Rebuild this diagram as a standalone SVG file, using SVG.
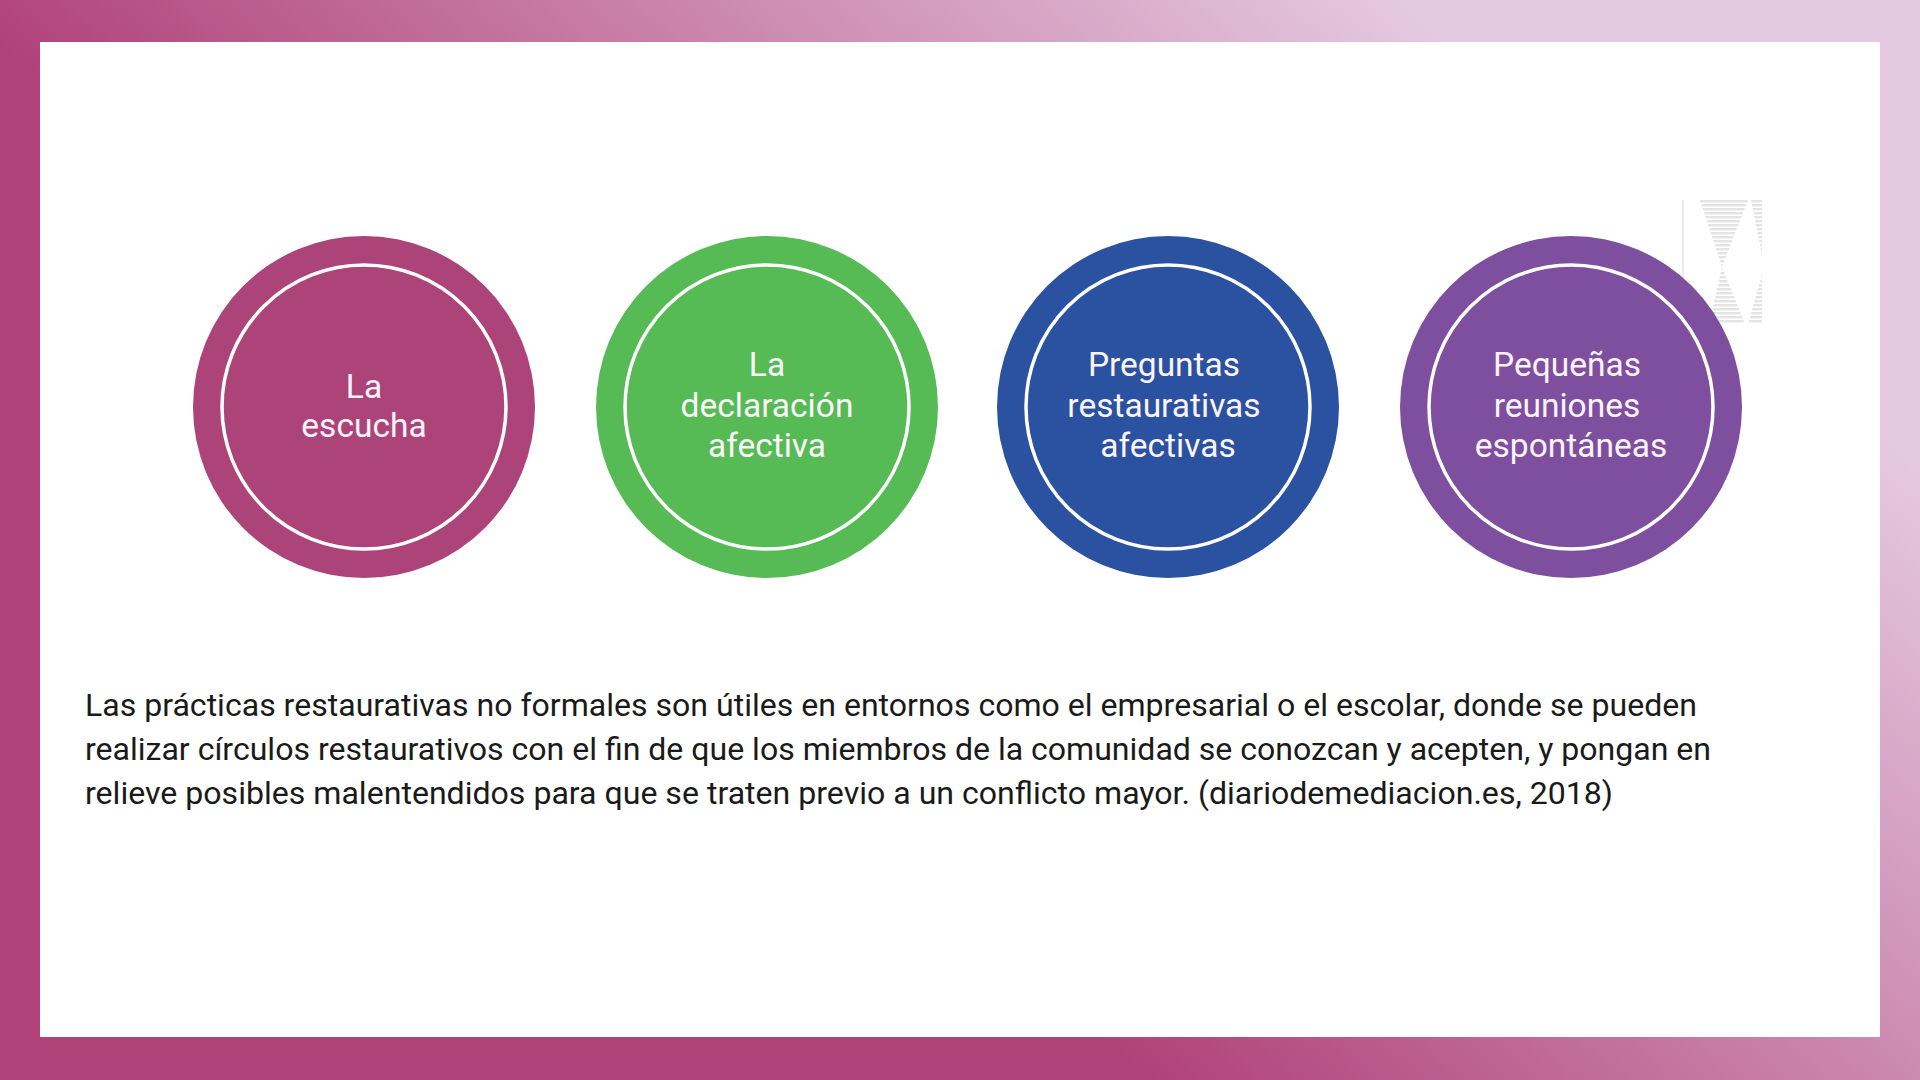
<svg xmlns="http://www.w3.org/2000/svg" width="1920" height="1080" viewBox="0 0 1920 1080">
<style>
.ring{fill:none;stroke:#ffffff;stroke-width:3.5}
.lbl{font-family:Roboto,"Liberation Sans",sans-serif;font-size:33.5px;fill:#fbf4fa;text-anchor:middle}
.body{font-family:Roboto,"Liberation Sans",sans-serif;font-size:30.5px;fill:#1a1a1a}
</style>
<defs>
<linearGradient id="bg" gradientUnits="userSpaceOnUse" x1="-50" y1="0" x2="599" y2="-721">
<stop offset="0" stop-color="#b04279"/>
<stop offset="1" stop-color="#e5c9e0"/>
</linearGradient>
<pattern id="stripes" patternUnits="userSpaceOnUse" width="10" height="4">
<rect x="0" y="0" width="10" height="2.4" fill="#e4e4e4"/>
</pattern>
</defs>
<rect x="0" y="0" width="1920" height="1080" fill="url(#bg)"/>
<rect x="40" y="42" width="1840" height="995" fill="#ffffff"/>
<g id="logo">
<rect x="1682" y="200" width="2" height="122" fill="#ececec"/>
<polygon points="1700,200 1748,200 1722,267" fill="url(#stripes)"/>
<polygon points="1751,200 1762,200 1762,255" fill="url(#stripes)"/>
<polygon points="1722,267 1745,324 1709,324" fill="url(#stripes)"/>
<polygon points="1762,274 1762,324 1748,324" fill="url(#stripes)"/>
</g>
<g id="node-escucha">
<circle cx="364" cy="407" r="171" fill="#ad4479"/>
<circle class="ring" cx="364" cy="407" r="142"/>
<text class="lbl" x="364" y="398">La</text>
<text class="lbl" x="364" y="437">escucha</text>
</g>
<g id="node-declaracion">
<circle cx="767" cy="407" r="171" fill="#57bb55"/>
<circle class="ring" cx="767" cy="407" r="142"/>
<text class="lbl" x="767" y="376">La</text>
<text class="lbl" x="767" y="417">declaración</text>
<text class="lbl" x="767" y="457">afectiva</text>
</g>
<g id="node-preguntas">
<circle cx="1168" cy="407" r="171" fill="#2a52a0"/>
<circle class="ring" cx="1168" cy="407" r="142"/>
<text class="lbl" x="1164" y="376">Preguntas</text>
<text class="lbl" x="1164" y="417">restaurativas</text>
<text class="lbl" x="1168" y="457">afectivas</text>
</g>
<g id="node-reuniones">
<circle cx="1571" cy="407" r="171" fill="#7f4f9f"/>
<circle class="ring" cx="1571" cy="407" r="142"/>
<text class="lbl" x="1567" y="376">Pequeñas</text>
<text class="lbl" x="1567" y="417">reuniones</text>
<text class="lbl" x="1571" y="457">espontáneas</text>
</g>
<g id="connectors"></g>
<g id="caption">
<text class="body" x="85" y="716" textLength="1612" lengthAdjust="spacingAndGlyphs">Las prácticas restaurativas no formales son útiles en entornos como el empresarial o el escolar, donde se pueden</text>
<text class="body" x="85" y="760" textLength="1626" lengthAdjust="spacingAndGlyphs">realizar círculos restaurativos con el fin de que los miembros de la comunidad se conozcan y acepten, y pongan en</text>
<text class="body" x="85" y="804" textLength="1528" lengthAdjust="spacingAndGlyphs">relieve posibles malentendidos para que se traten previo a un conflicto mayor. (diariodemediacion.es, 2018)</text>
</g>
</svg>
